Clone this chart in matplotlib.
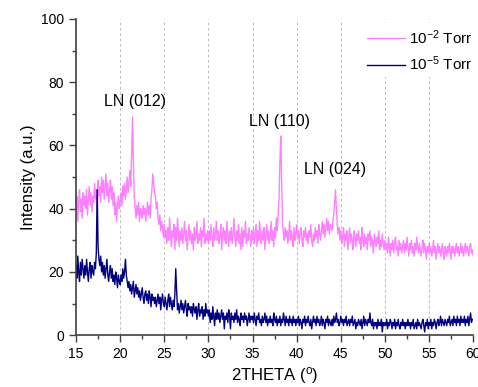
import numpy as np
import matplotlib
matplotlib.use("Agg")
import matplotlib.pyplot as plt

plt.rcParams['font.family'] = ['Liberation Sans', 'DejaVu Sans']
plt.rcParams['mathtext.fontset'] = 'custom'
plt.rcParams['mathtext.rm'] = 'Liberation Sans'
plt.rcParams['mathtext.it'] = 'Liberation Sans:italic'
plt.rcParams['mathtext.bf'] = 'Liberation Sans:bold'

x_start, x_step = 15.0, 0.1

pink_vals = [
    40,44,36,42,46,39,43,37,45,41, 44,40,46,38,43,47,41,45,39,44,
    42,48,43,46,40,49,44,47,42,50, 45,49,43,47,51,44,48,42,46,49,
    43,47,41,45,38,42,36,41,44,40,
    42,45,41,47,44,48,43,46,50,45, 48,52,47,57,69,55,44,40,37,41,
    38,42,36,40,39,37,41,38,40,36, 39,42,38,41,37,43,46,51,48,45,
    44,40,42,37,35,38,33,36,34,31,
    35,31,33,29,34,30,37,32,28,33, 31,35,27,34,30,37,32,28,33,30,
    34,29,32,36,30,33,27,31,35,30, 33,29,32,27,34,30,31,36,29,32,
    30,34,28,33,31,37,29,32,30,33,
    29,33,30,35,31,28,34,30,32,36, 30,33,29,31,35,27,32,34,30,33,
    29,36,31,28,33,30,34,29,32,37, 31,28,33,30,35,29,32,27,34,28,
    33,31,36,29,32,30,34,31,28,33,
    30,34,29,32,35,28,33,30,36,31, 29,33,30,34,27,32,35,30,33,29,
    31,36,30,33,28,34,31,37,33,38, 43,55,63,48,36,32,30,34,31,33,
    29,32,36,30,33,31,28,34,30,32,
    35,31,33,29,32,34,30,28,33,31, 34,30,32,29,33,31,35,30,28,32,
    30,34,31,33,29,35,32,30,33,36, 32,35,31,34,37,33,36,32,35,34,
    33,36,38,42,46,40,35,32,34,30,
    33,29,31,34,28,32,30,33,27,31, 34,29,32,30,27,33,31,28,32,30,
    33,29,31,27,34,30,28,32,29,31, 27,32,30,33,28,31,29,26,32,30,
    28,31,29,33,27,30,28,32,29,27,
    30,27,29,26,31,28,25,29,27,30, 26,29,31,27,28,25,30,27,29,26,
    28,30,26,29,27,31,28,25,29,27, 30,26,28,25,29,27,31,28,26,29,
    27,25,28,30,26,29,27,24,28,26,
    29,26,28,25,27,30,26,28,24,27, 29,26,28,25,27,29,26,24,28,27,
    25,28,26,29,27,24,28,26,28,25, 27,29,26,28,25,27,29,26,28,25,
    27,29,26,28,27,25,28,29,26,27,
    25,
]

blue_vals = [
    22,18,25,20,17,23,19,24,21,18, 22,19,24,20,17,21,23,18,22,20,
    19,23,21,26,46,28,24,22,25,20, 23,19,22,18,21,24,19,17,20,22,
    18,21,17,19,16,20,18,15,19,17,
    16,19,17,21,18,20,24,19,17,15, 17,14,16,13,15,17,12,14,16,13,
    15,12,14,11,13,15,12,10,13,14, 11,13,10,14,12,9,13,11,12,10,
    12,9,11,13,10,12,8,11,13,10,
    9,12,10,8,11,13,9,12,10,8, 11,9,13,21,14,8,10,7,9,11,
    8,10,7,9,11,8,6,10,8,9, 7,9,6,10,8,7,9,5,8,10,
    6,8,7,9,5,8,6,10,7,8,
    6,8,4,7,5,9,6,3,7,5, 8,5,7,4,6,8,5,7,2,6,
    5,7,4,8,6,2,7,5,6,4, 7,5,8,4,6,5,3,7,5,6,
    4,7,5,6,3,5,7,4,6,5,
    6,4,7,5,3,6,5,7,4,5, 3,6,4,5,7,4,6,3,5,4,
    6,4,5,3,7,5,4,6,3,5, 4,6,3,5,4,7,5,3,6,4,
    5,3,6,4,5,3,6,4,5,3,
    5,4,6,3,5,4,2,5,4,6, 3,5,4,6,4,3,5,2,4,6,
    4,5,3,6,4,5,3,4,6,3, 5,4,2,5,4,6,3,5,4,3,
    5,3,6,4,5,7,4,5,3,4,
    6,4,5,3,5,4,6,3,4,5, 3,5,4,6,3,4,5,2,4,3,
    5,4,3,5,2,4,6,3,5,4, 3,5,4,7,4,3,5,2,4,3,
    4,2,5,3,4,3,5,1,4,3,
    4,3,5,2,4,3,5,4,2,4, 3,5,2,4,3,5,3,2,4,3,
    5,3,4,2,4,3,5,3,4,2, 4,3,5,2,3,4,2,5,3,4,
    3,2,4,5,3,1,4,3,5,2,
    4,3,5,2,4,3,5,4,2,4, 5,3,4,6,3,5,4,3,5,4,
    3,5,4,6,3,4,5,3,6,4, 5,3,6,4,5,3,6,4,5,4,
    6,3,5,4,6,3,5,7,4,5,
    5,
]

series_labels = ['10$^{-2}$ Torr', '10$^{-5}$ Torr']
peak_labels = ['LN (012)', 'LN (110)', 'LN (024)']
peak_pos = [(21.7, 74), (38.1, 67.7), (44.3, 52.5)]

x_pink = x_start + x_step * np.arange(len(pink_vals))
x_blue = x_start + x_step * np.arange(len(blue_vals))

fig = plt.figure(figsize=(4.78, 3.87), dpi=100)
ax = fig.add_axes([0.159, 0.134, 0.831, 0.817])

ax.plot(x_pink, pink_vals, color='#ff80ff', lw=1.0, label=series_labels[0])
ax.plot(x_blue, blue_vals, color='#000080', lw=1.0, label=series_labels[1])

for xv in range(20, 60, 5):
    ax.axvline(xv, color='#c0c0c0', lw=0.7, ls=(0, (3, 2.5)), zorder=0)

for lab, (px, py) in zip(peak_labels, peak_pos):
    ax.text(px, py, lab, ha='center', va='center', fontsize=11.5)

ax.set_xlim(15, 60)
ax.set_ylim(0, 100)
ax.set_xticks(range(15, 61, 5))
ax.set_xticks(np.arange(17.5, 60, 5), minor=True)
ax.set_yticks(range(0, 101, 20))
ax.set_yticks(range(10, 100, 20), minor=True)
ax.tick_params(which='major', direction='out', length=5, width=1, labelsize=10,
               color='#404040')
ax.tick_params(which='minor', direction='out', length=3, width=1, color='#404040')
for s in ['top', 'right']:
    ax.spines[s].set_visible(False)
for s in ['left', 'bottom']:
    ax.spines[s].set_color('#404040')
    ax.spines[s].set_linewidth(1.2)

ax.set_xlabel('2THETA ($^{\\mathrm{o}}$)', fontsize=12, labelpad=3)
ax.set_ylabel('Intensity (a.u.)', fontsize=12, labelpad=4)

leg = ax.legend(loc='upper right', bbox_to_anchor=(1.03, 1.01), fontsize=11,
                frameon=True, facecolor='white', edgecolor='none', framealpha=1,
                handlelength=2.5, handletextpad=0.3, labelspacing=0.5, borderpad=0.3)

fig.savefig('out.png', dpi=100)
